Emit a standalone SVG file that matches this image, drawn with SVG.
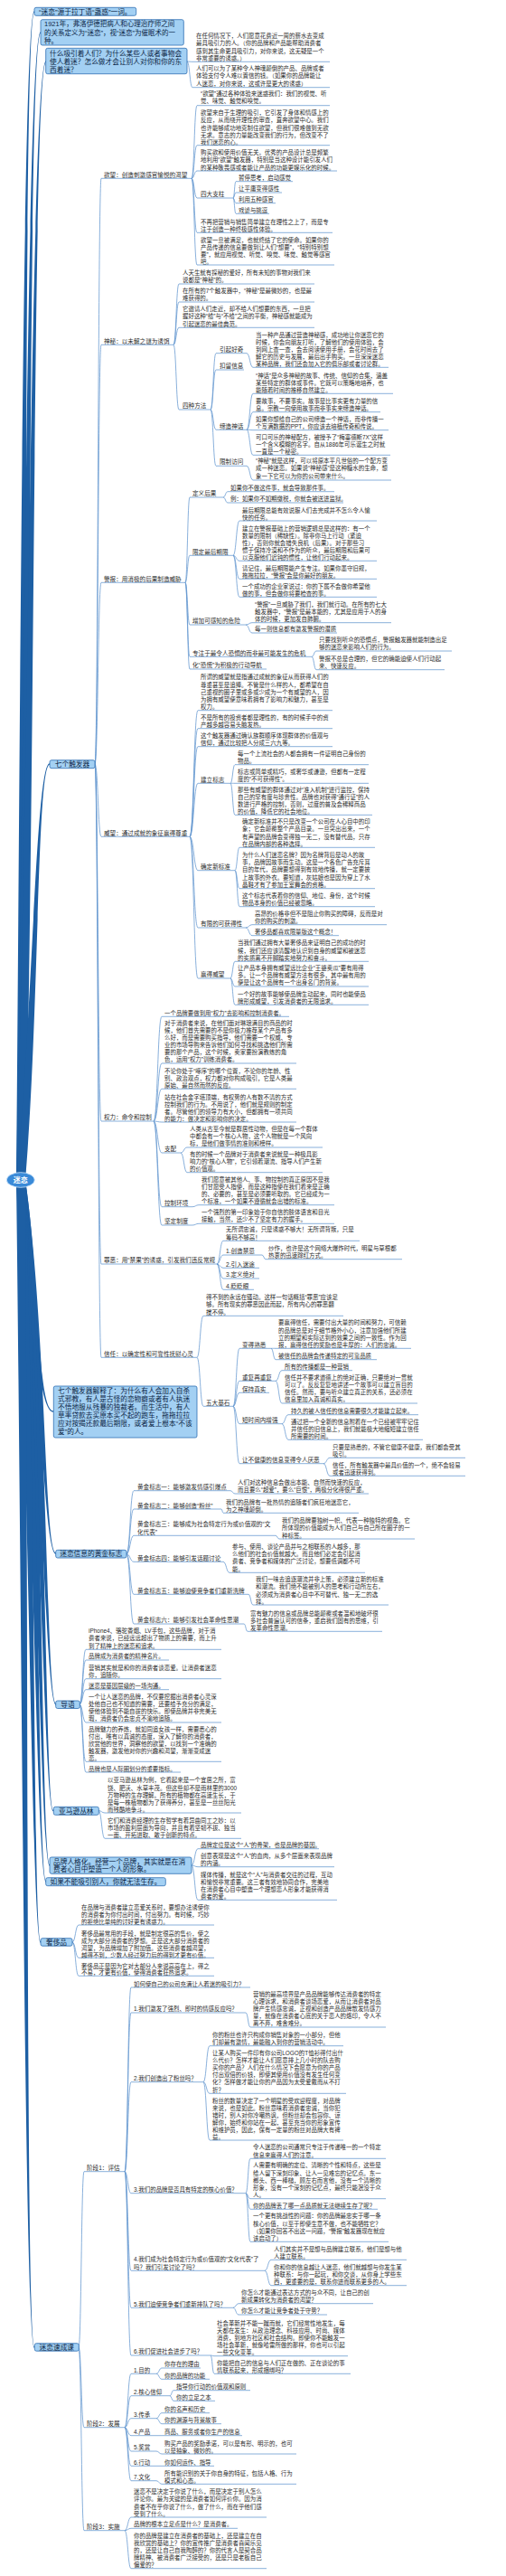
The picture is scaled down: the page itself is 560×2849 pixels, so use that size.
<svg xmlns="http://www.w3.org/2000/svg" width="560" height="2849" viewBox="0 0 560 2849">
<style>
text{font-family:"Liberation Sans","Noto Sans CJK SC","Noto Sans",sans-serif}
.t{font-size:6.45px;fill:#2b2b2b}
.l{font-size:6.6px;fill:#2b2b2b}
.b{font-size:7.7px;fill:#0b2545}
.m{text-anchor:middle}
.u,.c{stroke:#6296cf;stroke-width:0.75;fill:none}
.bx{fill:#a3d0f3;stroke:#2f6fb3;stroke-width:0.8}
.tr{fill:#1d5fa4}
</style>
<rect width="560" height="2849" fill="#ffffff"/>
<g id="trunk">
<path class="tr" d="M18,1305 C22.5,788 25.3,12.3 38,12.3 L38,13.7 C26.7,13.7 29.5,788 28,1305Z"/>
<path class="tr" d="M18,1305 C27.5,797 30.3,35.3 45,35.3 L45,36.7 C31.7,36.7 34.5,797 28,1305Z"/>
<path class="tr" d="M18,1305 C32.5,810 35.3,67.3 51,67.3 L51,68.7 C36.7,68.7 39.5,810 28,1305Z"/>
<path class="tr" d="M18,1305 C36.5,1121 39.3,844.3 55,844.3 L55,845.7 C40.7,845.7 43.5,1121 28,1305Z"/>
<path class="tr" d="M18,1305 C36.5,1407 39.3,1561.7 59,1561.7 L59,1560.3 C40.7,1560.3 43.5,1407 28,1305Z"/>
<path class="tr" d="M18,1305 C44.5,1470 47.3,1718.7 62,1718.7 L62,1717.3 C48.7,1717.3 51.5,1470 28,1305Z"/>
<path class="tr" d="M18,1305 C46.5,1537 49.3,1885.7 62,1885.7 L62,1884.3 C50.7,1884.3 53.5,1537 28,1305Z"/>
<path class="tr" d="M18,1305 C45.5,1584 48.3,2003.2 59,2003.2 L59,2001.8 C49.7,2001.8 52.5,1584 28,1305Z"/>
<path class="tr" d="M18,1305 C41.5,1608 44.3,2063.7 55,2063.7 L55,2062.3 C45.7,2062.3 48.5,1608 28,1305Z"/>
<path class="tr" d="M18,1305 C37.5,1615 40.3,2081.7 51,2081.7 L51,2080.3 C41.7,2080.3 44.5,1615 28,1305Z"/>
<path class="tr" d="M18,1305 C32.5,1642 35.3,2148.7 45,2148.7 L45,2147.3 C36.7,2147.3 39.5,1642 28,1305Z"/>
<path class="tr" d="M18,1305 C24.5,1821 27.3,2596.7 38,2596.7 L38,2595.3 C28.7,2595.3 31.5,1821 28,1305Z"/>
</g>
<g id="connectors" class="c">
<path d="M207 68C210 68 210 68.3 213 68.3M207 68C210 68 210 96.7 213 96.7"/>
<path d="M105 845C108.5 845 108.5 197.3 112 197.3M105 845C108.5 845 108.5 381.3 112 381.3M105 845C108.5 845 108.5 644.3 112 644.3M105 845C108.5 845 108.5 925.3 112 925.3M105 845C108.5 845 108.5 1240 112 1240M105 845C108.5 845 108.5 1398 112 1398M105 845C108.5 845 108.5 1501.3 112 1501.3"/>
<path d="M212 197.3C215 197.3 215 116.7 218 116.7M212 197.3C215 197.3 215 160.7 218 160.7M212 197.3C215 197.3 215 189 218 189M212 197.3C215 197.3 215 219 218 219M212 197.3C215 197.3 215 257.3 218 257.3M212 197.3C215 197.3 215 293 218 293"/>
<path d="M258 219C259.5 219 259.5 200.7 261 200.7M258 219C259.5 219 259.5 213 261 213M258 219C259.5 219 259.5 224.7 261 224.7M258 219C259.5 219 259.5 236.3 261 236.3"/>
<path d="M192 381.3C195 381.3 195 314 198 314M192 381.3C195 381.3 195 334 198 334M192 381.3C195 381.3 195 362.3 198 362.3M192 381.3C195 381.3 195 453 198 453"/>
<path d="M233 453C236 453 236 390.7 239 390.7M233 453C236 453 236 409 239 409M233 453C236 453 236 475.3 239 475.3M233 453C236 453 236 515.3 239 515.3"/>
<path d="M273 390.7C276.5 390.7 276.5 406.3 280 406.3"/>
<path d="M273 475.3C276.5 475.3 276.5 435.3 280 435.3M273 475.3C276.5 475.3 276.5 455.7 280 455.7M273 475.3C276.5 475.3 276.5 475.7 280 475.7M273 475.3C276.5 475.3 276.5 503.3 280 503.3"/>
<path d="M273 515.3C276.5 515.3 276.5 531 280 531"/>
<path d="M205 644.3C207.5 644.3 207.5 550 210 550M205 644.3C207.5 644.3 207.5 614.3 210 614.3M205 644.3C207.5 644.3 207.5 691 210 691M205 644.3C207.5 644.3 207.5 726.3 210 726.3M205 644.3C207.5 644.3 207.5 740 210 740"/>
<path d="M247 550C249.5 550 249.5 543.7 252 543.7M247 550C249.5 550 249.5 556 252 556"/>
<path d="M258 614.3C261.5 614.3 261.5 576 265 576M258 614.3C261.5 614.3 261.5 620.3 265 620.3M258 614.3C261.5 614.3 261.5 640.3 265 640.3M258 614.3C261.5 614.3 261.5 660.3 265 660.3"/>
<path d="M272 691C275.5 691 275.5 688.7 279 688.7M272 691C275.5 691 275.5 700 279 700"/>
<path d="M345 726.3C347.5 726.3 347.5 720 350 720M345 726.3C347.5 726.3 347.5 740.7 350 740.7"/>
<path d="M210 925.3C214.5 925.3 214.5 785.7 219 785.7M210 925.3C214.5 925.3 214.5 805.7 219 805.7M210 925.3C214.5 925.3 214.5 825.7 219 825.7M210 925.3C214.5 925.3 214.5 866.3 219 866.3M210 925.3C214.5 925.3 214.5 962.7 219 962.7M210 925.3C214.5 925.3 214.5 1026 219 1026M210 925.3C214.5 925.3 214.5 1082 219 1082"/>
<path d="M255 866.3C257.5 866.3 257.5 845.7 260 845.7M255 866.3C257.5 866.3 257.5 866.3 260 866.3M255 866.3C257.5 866.3 257.5 901.3 260 901.3"/>
<path d="M260 962.7C262.5 962.7 262.5 937.3 265 937.3M260 962.7C262.5 962.7 262.5 982.7 265 982.7M260 962.7C262.5 962.7 262.5 1002.7 265 1002.7"/>
<path d="M272 1026C275.5 1026 275.5 1022.7 279 1022.7M272 1026C275.5 1026 275.5 1034.7 279 1034.7"/>
<path d="M255 1082C257.5 1082 257.5 1063.3 260 1063.3M255 1082C257.5 1082 257.5 1091 260 1091M255 1082C257.5 1082 257.5 1111.3 260 1111.3"/>
<path d="M170 1240C174.5 1240 174.5 1124.3 179 1124.3M170 1240C174.5 1240 174.5 1176 179 1176M170 1240C174.5 1240 174.5 1204.3 179 1204.3M170 1240C174.5 1240 174.5 1241 179 1241M170 1240C174.5 1240 174.5 1275 179 1275M170 1240C174.5 1240 174.5 1334.7 179 1334.7M170 1240C174.5 1240 174.5 1355 179 1355"/>
<path d="M200 1275C203.5 1275 203.5 1269 207 1269M200 1275C203.5 1275 203.5 1296.7 207 1296.7"/>
<path d="M213 1334.7C216.5 1334.7 216.5 1332.7 220 1332.7M213 1355C216.5 1355 216.5 1353.3 220 1353.3"/>
<path d="M240 1398C243.5 1398 243.5 1372.3 247 1372.3M240 1398C243.5 1398 243.5 1388 247 1388M240 1398C243.5 1398 243.5 1402.3 247 1402.3M240 1398C243.5 1398 243.5 1414 247 1414M240 1398C243.5 1398 243.5 1426.3 247 1426.3"/>
<path d="M290 1388C292 1388 292 1392.7 294 1392.7"/>
<path d="M218 1501.3C221.5 1501.3 221.5 1455.3 225 1455.3M218 1501.3C221.5 1501.3 221.5 1555.3 225 1555.3"/>
<path d="M258 1555.3C261.5 1555.3 261.5 1491.3 265 1491.3M258 1555.3C261.5 1555.3 261.5 1527.3 265 1527.3M258 1555.3C261.5 1555.3 261.5 1540.3 265 1540.3M258 1555.3C261.5 1555.3 261.5 1574.7 265 1574.7M258 1555.3C261.5 1555.3 261.5 1618.7 265 1618.7"/>
<path d="M300 1491.3C302.5 1491.3 302.5 1491.3 305 1491.3M300 1491.3C302.5 1491.3 302.5 1503.7 305 1503.7"/>
<path d="M305 1527.3C308.5 1527.3 308.5 1515.7 312 1515.7M305 1527.3C308.5 1527.3 308.5 1552 312 1552"/>
<path d="M312 1574.7C315.5 1574.7 315.5 1564.7 319 1564.7M312 1574.7C315.5 1574.7 315.5 1592.3 319 1592.3"/>
<path d="M358 1618.7C361.5 1618.7 361.5 1612.3 365 1612.3M358 1618.7C361.5 1618.7 361.5 1632.3 365 1632.3"/>
<path d="M140 1718.5C144 1718.5 144 1648.7 148 1648.7M140 1718.5C144 1718.5 144 1669 148 1669M140 1718.5C144 1718.5 144 1698.3 148 1698.3M140 1718.5C144 1718.5 144 1727.3 148 1727.3M140 1718.5C144 1718.5 144 1763.3 148 1763.3M140 1718.5C144 1718.5 144 1796 148 1796"/>
<path d="M255 1648.7C257.5 1648.7 257.5 1652 260 1652M245 1669C246 1669 246 1673.3 247 1673.3M305 1698.3C307 1698.3 307 1702 309 1702M247 1727.3C250.5 1727.3 250.5 1739.3 254 1739.3M275 1763.3C277.5 1763.3 277.5 1775 280 1775M270 1796C272 1796 272 1804.3 274 1804.3"/>
<path d="M88 1885C91.5 1885 91.5 1824.3 95 1824.3M88 1885C91.5 1885 91.5 1836 95 1836M88 1885C91.5 1885 91.5 1856.7 95 1856.7M88 1885C91.5 1885 91.5 1868.7 95 1868.7M88 1885C91.5 1885 91.5 1905 95 1905M88 1885C91.5 1885 91.5 1948.3 95 1948.3M88 1885C91.5 1885 91.5 1960 95 1960"/>
<path d="M109 2002.5C112.5 2002.5 112.5 2005 116 2005M109 2002.5C112.5 2002.5 112.5 2033.3 116 2033.3"/>
<path d="M212 2063C215.5 2063 215.5 2044.7 219 2044.7M212 2063C215.5 2063 215.5 2064.7 219 2064.7M212 2063C215.5 2063 215.5 2101.3 219 2101.3"/>
<path d="M80 2148C83.5 2148 83.5 2129 87 2129M80 2148C83.5 2148 83.5 2165.3 87 2165.3M80 2148C83.5 2148 83.5 2185.3 87 2185.3"/>
<path d="M87 2596C90 2596 90 2401.7 93 2401.7M87 2596C90 2596 90 2684.7 93 2684.7M87 2596C90 2596 90 2798.7 93 2798.7"/>
<path d="M138 2401.7C141.5 2401.7 141.5 2198 145 2198M138 2401.7C141.5 2401.7 141.5 2226 145 2226M138 2401.7C141.5 2401.7 141.5 2302.7 145 2302.7M138 2401.7C141.5 2401.7 141.5 2425.7 145 2425.7M138 2401.7C141.5 2401.7 141.5 2511.3 145 2511.3M138 2401.7C141.5 2401.7 141.5 2552.3 145 2552.3M138 2401.7C141.5 2401.7 141.5 2605 145 2605"/>
<path d="M272 2226C274.5 2226 274.5 2242 277 2242"/>
<path d="M225 2302.7C228.5 2302.7 228.5 2262.7 232 2262.7M225 2302.7C228.5 2302.7 228.5 2315.3 232 2315.3M225 2302.7C228.5 2302.7 228.5 2367 232 2367"/>
<path d="M272 2425.7C274.5 2425.7 274.5 2387.3 277 2387.3M272 2425.7C274.5 2425.7 274.5 2431.7 277 2431.7M272 2425.7C274.5 2425.7 274.5 2443.3 277 2443.3M272 2425.7C274.5 2425.7 274.5 2479.3 277 2479.3"/>
<path d="M293 2511.3C296.5 2511.3 296.5 2499.3 300 2499.3M293 2511.3C296.5 2511.3 296.5 2527.7 300 2527.7"/>
<path d="M258 2552.3C261 2552.3 261 2547.7 264 2547.7M258 2552.3C261 2552.3 261 2560 264 2560"/>
<path d="M233 2605C235 2605 235 2605.7 237 2605.7M233 2605C235 2605 235 2625.3 237 2625.3"/>
<path d="M138 2684.7C141.5 2684.7 141.5 2625.3 145 2625.3M138 2684.7C141.5 2684.7 141.5 2649.7 145 2649.7M138 2684.7C141.5 2684.7 141.5 2674.7 145 2674.7M138 2684.7C141.5 2684.7 141.5 2693.7 145 2693.7M138 2684.7C141.5 2684.7 141.5 2711 145 2711M138 2684.7C141.5 2684.7 141.5 2727.3 145 2727.3M138 2684.7C141.5 2684.7 141.5 2743.7 145 2743.7"/>
<path d="M173 2625.3C176 2625.3 176 2619 179 2619M173 2625.3C176 2625.3 176 2631.3 179 2631.3M188 2649.7C190 2649.7 190 2643.7 192 2643.7M188 2649.7C190 2649.7 190 2655.3 192 2655.3M173 2674.7C176 2674.7 176 2668.7 179 2668.7M173 2674.7C176 2674.7 176 2680.7 179 2680.7M173 2693.7H179M173 2711C176 2711 176 2714 179 2714M173 2727.3H179M173 2743.7C176 2743.7 176 2747.3 179 2747.3"/>
<path d="M138 2798.7C141.5 2798.7 141.5 2784 145 2784M138 2798.7C141.5 2798.7 141.5 2796.3 145 2796.3M138 2798.7C141.5 2798.7 141.5 2840.7 145 2840.7"/>
</g>
<g id="n-root"><ellipse cx="22.8" cy="1305" rx="15.5" ry="8.3" fill="#3a8ad8" stroke="#cfe6fb" stroke-width="0.8"/><text class="m" x="22.8" y="1308.2" font-size="8" font-weight="bold" fill="#ffffff">迷恋</text></g>
<g id="n-top1"><rect class="bx" x="38" y="8.3" width="112.7" height="9" rx="2"/><text class="b m" x="94.3" y="15.6">“迷恋”源于拉丁语“蛊惑”一词。</text></g>
<g id="n-top2"><rect class="bx" x="45" y="21.7" width="158.3" height="28.3" rx="2"/><text class="b" x="49" y="29.4" style="font-size:7.5px">1921年，弗洛伊德把病人和心理治疗师之间<tspan x="49" dy="9.2">的关系定义为“迷恋”，视“迷恋”为催眠术的一</tspan><tspan x="49" dy="9.2">种。</tspan></text></g>
<g id="n-top3"><rect class="bx" x="50.7" y="53.3" width="156.3" height="28.4" rx="2"/><text class="b" x="55" y="62.1">什么吸引着人们？为什么某些人或者事物会<tspan x="55" dy="9">使人着迷？怎么做才会让别人对你和你的东</tspan><tspan x="55" dy="9">西着迷？</tspan></text></g>
<g id="n-top3-a"><text class="t" x="217" y="42.3">在任何情况下，人们愿意花费近一周的薪水去变成<tspan x="217" dy="8.1">最具吸引力的人。（你的品牌和产品能帮助消费者</tspan><tspan x="217" dy="8.1">感到其生命更具吸引力，对你来说，这无疑是一个</tspan><tspan x="217" dy="8.1">非常重要的诱惑。）</tspan></text><path class="u" d="M213 68.3H365"/></g>
<g id="n-top3-b"><text class="t" x="217" y="78.3">人们可以为了某种令人神魂颠倒的产品、品牌或者<tspan x="217" dy="8.1">体验支付令人难以置信的钱。（如果你的品牌能让</tspan><tspan x="217" dy="8.1">人迷恋，对你来说，这或许是更大的诱惑）</tspan></text><path class="u" d="M213 96.7H365"/></g>
<g id="n-triggers"><rect class="bx" x="55" y="840.7" width="50" height="9" rx="2"/><text class="b m" x="80" y="848">七个触发器</text></g>
<g id="n-desire"><text class="l" x="115" y="195.7">欲望：创造刺激感官愉悦的渴望</text><path class="u" d="M112 197.3H212"/></g>
<g id="n-desire-a"><text class="t" x="222" y="106.3">“欲望”通过各种体验来迷惑我们：我们的视觉、听<tspan x="222" dy="8.1">觉、味觉、触觉和嗅觉。</tspan></text><path class="u" d="M218 116.7H365"/></g>
<g id="n-desire-b"><text class="t" x="222" y="127.3">欲望来自于生理的吸引，它引发了身体和情感上的<tspan x="222" dy="8.1">反应，从而绕开理性的审查，直奔欲望中心。我们</tspan><tspan x="222" dy="8.1">也许能够成功地克制住欲望，但我们很难做到无欲</tspan><tspan x="222" dy="8.1">无求。意志的力量能改变我们的行为，但改变不了</tspan><tspan x="222" dy="8.1">我们迷恋的心。</tspan></text><path class="u" d="M218 160.7H365"/></g>
<g id="n-desire-c"><text class="t" x="222" y="171.3">购买欲和使用价值无关。优秀的产品设计总是频繁<tspan x="222" dy="8.1">地利用“欲望”触发器，特别是当这种设计能引发人们</tspan><tspan x="222" dy="8.1">的某种敬畏感或者能让产品的功能更娱乐化的时候。</tspan></text><path class="u" d="M218 189H373"/></g>
<g id="n-desire-d"><text class="l" x="222" y="217.4">四大支柱</text><path class="u" d="M218 219H258"/></g>
<g id="n-desire-d1"><text class="t" x="264" y="199">暂停思考，启动感觉</text><path class="u" d="M261 200.7H324"/></g>
<g id="n-desire-d2"><text class="t" x="264" y="211.3">让平庸变得感性</text><path class="u" d="M261 213H312"/></g>
<g id="n-desire-d3"><text class="t" x="264" y="223">利用五种感官</text><path class="u" d="M261 224.7H305"/></g>
<g id="n-desire-d4"><text class="t" x="264" y="234.6">戏谑与挑逗</text><path class="u" d="M261 236.3H298"/></g>
<g id="n-desire-e"><text class="t" x="222" y="247.6">不再把营销与销售简单建立在理性之上了，而是专<tspan x="222" dy="8.1">注于创造一种终极感性体验。</tspan></text><path class="u" d="M218 257.3H368"/></g>
<g id="n-desire-f"><text class="t" x="222" y="268">欲望一旦被满足，也就终结了它的使命。如果你的<tspan x="222" dy="8.1">产品传递的信息要做到让人们“想要”，“特别特别想</tspan><tspan x="222" dy="8.1">要”，就应用视觉、听觉、嗅觉、味觉、触觉等感官</tspan><tspan x="222" dy="8.1">吧。</tspan></text><path class="u" d="M218 293H370"/></g>
<g id="n-mystery"><text class="l" x="115" y="379.7">神秘：以未解之谜为诱饵</text><path class="u" d="M112 381.3H192"/></g>
<g id="n-mystery-a"><text class="t" x="202" y="304.3">人天生就有探秘的爱好，所有未知的事物对我们来<tspan x="202" dy="8.1">说都是“神秘”的。</tspan></text><path class="u" d="M198 314H348"/></g>
<g id="n-mystery-b"><text class="t" x="202" y="324.3">在所有的7个触发器中，“神秘”是最微妙的，也是最<tspan x="202" dy="8.1">难获得的。</tspan></text><path class="u" d="M198 334H348"/></g>
<g id="n-mystery-c"><text class="t" x="202" y="344.3">它邀请人们走近，却不给人们想要的东西，一旦把<tspan x="202" dy="8.1">握好这种“给”与“不给”之间的平衡，神秘感就能成为</tspan><tspan x="202" dy="8.1">引起迷恋的最佳典范。</tspan></text><path class="u" d="M198 362.3H348"/></g>
<g id="n-mystery-d"><text class="l" x="202" y="451.1">四种方法</text><path class="u" d="M198 453H233"/></g>
<g id="n-mystery-d1"><text class="l" x="243" y="388.7">引起好奇</text><path class="u" d="M239 390.7H273"/></g>
<g id="n-mystery-d1a"><text class="t" x="283" y="372.6">当一种产品通过营造神秘感，成功地让你迷恋它的<tspan x="283" dy="8.1">时候，你会向朋友打听，了解他们的使用体验，会</tspan><tspan x="283" dy="8.1">到网上查一查，会去阅读使用手册，会花时间去了</tspan><tspan x="283" dy="8.1">解它的历史与发展，最后出手购买。一旦深深迷恋</tspan><tspan x="283" dy="8.1">某种品牌，我们还会加入它的俱乐部或者讨论群。</tspan></text><path class="u" d="M280 406.3H430"/></g>
<g id="n-mystery-d2"><text class="l" x="243" y="407.1">扣留信息</text><path class="u" d="M239 409H270"/></g>
<g id="n-mystery-d3"><text class="l" x="243" y="473.7">缔造神话</text><path class="u" d="M239 475.3H273"/></g>
<g id="n-mystery-d3a"><text class="t" x="283" y="417.6">“神话”是众多神秘的故事、传统、信仰的合集，涵盖<tspan x="283" dy="8.1">某些特定的群体或事件。它既可以策略地培养，也</tspan><tspan x="283" dy="8.1">能随着时间的推移自然建立。</tspan></text><path class="u" d="M280 435.3H435"/></g>
<g id="n-mystery-d3b"><text class="t" x="283" y="446">要故事，不要事实。故事是比事实更有力量的信<tspan x="283" dy="8.1">息。宗教一向使用故事而非事实来缔造神话。</tspan></text><path class="u" d="M280 455.7H421"/></g>
<g id="n-mystery-d3c"><text class="t" x="283" y="466">如果你想给自己的公司缔造一个神话，而非传播一<tspan x="283" dy="8.1">个写满数据的PPT，你应该去培植传奇和传说。</tspan></text><path class="u" d="M280 475.7H430"/></g>
<g id="n-mystery-d3d"><text class="t" x="283" y="485.6">可口可乐的神秘配方，被授予了“梅塞德斯7X”这样<tspan x="283" dy="8.1">一个含义模糊的名字。自从1886年可乐诞生之时就</tspan><tspan x="283" dy="8.1">一直是一个秘密。</tspan></text><path class="u" d="M280 503.3H432"/></g>
<g id="n-mystery-d4"><text class="l" x="243" y="513.4">限制访问</text><path class="u" d="M239 515.3H273"/></g>
<g id="n-mystery-d4a"><text class="t" x="283" y="512.3">“神秘”就是这样，可以将原本平凡世俗的一个配方变<tspan x="283" dy="8.1">成一种迷恋。如果说“神秘感”是这种糖水的生命，想</tspan><tspan x="283" dy="8.1">象一下它可以为你的公司带来什么。</tspan></text><path class="u" d="M280 531H433"/></g>
<g id="n-alarm"><text class="l" x="115" y="642.7">警报：用消极的后果制造威胁</text><path class="u" d="M112 644.3H205"/></g>
<g id="n-alarm-a"><text class="l" x="213" y="548.4">定义后果</text><path class="u" d="M210 550H247"/></g>
<g id="n-alarm-a1"><text class="t" x="255" y="541.6">如果你不做这件事，就会导致那件事。</text><path class="u" d="M252 543.7H370"/></g>
<g id="n-alarm-a2"><text class="t" x="255" y="554.3">例：如果你不如期缴税，你就会被送进监狱。</text><path class="u" d="M252 556H380"/></g>
<g id="n-alarm-b"><text class="l" x="213" y="612.7">限定最后期限</text><path class="u" d="M210 614.3H258"/></g>
<g id="n-alarm-b1"><text class="t" x="268" y="566.6">最后期限总能有效说服人们去完成并不怎么令人愉<tspan x="268" dy="8.1">快的任务。</tspan></text><path class="u" d="M265 576H417"/></g>
<g id="n-alarm-b2"><text class="t" x="268" y="586.6">建立在警报基础上的营销逻辑总是这样的：有一个<tspan x="268" dy="8.1">数量的限制（稀缺性）。除非你马上行动（紧迫</tspan><tspan x="268" dy="8.1">性），否则你就会错失良机（后果）。对于那些习</tspan><tspan x="268" dy="8.1">惯于保持冷漠和不作为的听众，最后期限和后果可</tspan><tspan x="268" dy="8.1">以克服他们迟钝的惯性，让他们行动起来。</tspan></text><path class="u" d="M265 620.3H417"/></g>
<g id="n-alarm-b3"><text class="t" x="268" y="630.6">请记住，最后期限能产生专注。如果你墨守旧规，<tspan x="268" dy="8.1">拖拖拉拉，“警报”会是你最好的朋友。</tspan></text><path class="u" d="M265 640.3H417"/></g>
<g id="n-alarm-b4"><text class="t" x="268" y="650.6">一个成功的企业家说过：你的下属不会做你希望他<tspan x="268" dy="8.1">做的事，但会做你将要检查的事。</tspan></text><path class="u" d="M265 660.3H417"/></g>
<g id="n-alarm-c"><text class="l" x="213" y="689.4">增加可感知的危险</text><path class="u" d="M210 691H272"/></g>
<g id="n-alarm-c1"><text class="t" x="282" y="670.6">“警报”一旦威胁了我们，我们就行动。在所有的七大<tspan x="282" dy="8.1">触发器中，“警报”是最本能的，尤其是应用于人的身</tspan><tspan x="282" dy="8.1">体的时候，更加发自肺腑。</tspan></text><path class="u" d="M279 688.7H433"/></g>
<g id="n-alarm-c2"><text class="t" x="282" y="698.3">每一则信息都有激发警报的潜质</text><path class="u" d="M279 700H373"/></g>
<g id="n-alarm-d"><text class="l" x="213" y="724.7">专注于最令人恐惧的而非最可能发生的危机</text><path class="u" d="M210 726.3H345"/></g>
<g id="n-alarm-d1"><text class="t" x="353" y="710">只要找到听众的恐惧点，警报触发器就能制造出足<tspan x="353" dy="7.6">够的迷恋来影响人们的行为。</tspan></text><path class="u" d="M350 720H500"/></g>
<g id="n-alarm-d2"><text class="t" x="353" y="731.3">警报不总是合理的，但它的确能迫使人们行动起<tspan x="353" dy="8.1">来、快速反应。</tspan></text><path class="u" d="M350 740.7H492"/></g>
<g id="n-alarm-e"><text class="l" x="213" y="738.1">化“恐慌”为积极的行动导航</text><path class="u" d="M210 740H295"/></g>
<g id="n-prestige"><text class="l" x="115" y="923.7">威望：通过成就的象征赢得尊重</text><path class="u" d="M112 925.3H210"/></g>
<g id="n-prestige-a"><text class="t" x="222" y="751.3">所谓的威望就是指通过成就的象征从而获得人们的<tspan x="222" dy="8.2">尊重甚至是追捧。不管是什么样的人，都希望在自</tspan><tspan x="222" dy="8.2">己重视的圈子里或多或少成为一个有威望的人，因</tspan><tspan x="222" dy="8.2">为拥有威望便意味着拥有了影响力和魅力，甚至是</tspan><tspan x="222" dy="8.2">权力。</tspan></text><path class="u" d="M219 785.7H368"/></g>
<g id="n-prestige-b"><text class="t" x="222" y="796.3">不是所有的投资者都是理性的，有的时候手中的资<tspan x="222" dy="8.1">产越多越容易头脑发热。</tspan></text><path class="u" d="M219 805.7H368"/></g>
<g id="n-prestige-c"><text class="t" x="222" y="815.6">这个触发器通过确认族群顺序体现群体的价值观与<tspan x="222" dy="8.1">信仰，通过比较把人分成三六九等。</tspan></text><path class="u" d="M219 825.7H368"/></g>
<g id="n-prestige-d"><text class="l" x="222" y="864.7">建立标志</text><path class="u" d="M219 866.3H255"/></g>
<g id="n-prestige-d1"><text class="t" x="263" y="835.6">每一个上流社会的人都会拥有一件证明自己身份的<tspan x="263" dy="8.1">物品。</tspan></text><path class="u" d="M260 845.7H408"/></g>
<g id="n-prestige-d2"><text class="t" x="263" y="856.3">标志或简单或精巧，或奢华或谦逊，但都有一定程<tspan x="263" dy="8.1">度的“不可获得性”。</tspan></text><path class="u" d="M260 866.3H408"/></g>
<g id="n-prestige-d3"><text class="t" x="263" y="876.3">那些有威望的群体通过对“准入机制”进行监控，保持<tspan x="263" dy="7.8">自己的罕有度与珍贵性。品牌也对获得“通行证”的人</tspan><tspan x="263" dy="7.8">数进行严格的控制，否则，过度的普及会稀释商品</tspan><tspan x="263" dy="7.8">的价值，降低它的社会地位。</tspan></text><path class="u" d="M260 901.3H412"/></g>
<g id="n-prestige-e"><text class="l" x="222" y="961.1">确定新标准</text><path class="u" d="M219 962.7H260"/></g>
<g id="n-prestige-e1"><text class="t" x="268" y="911.3">确定新标准并不只是改变一个公司在人心目中的印<tspan x="268" dy="8.1">象；它会颠覆整个产品目录。一旦突出出来，一个</tspan><tspan x="268" dy="8.1">有声望的品牌会变得独一无二，没有替代品，只存</tspan><tspan x="268" dy="8.1">在品牌内部的各种选择。</tspan></text><path class="u" d="M265 937.3H415"/></g>
<g id="n-prestige-e2"><text class="t" x="268" y="948">为什么人们迷恋名牌？因为名牌背后是动人的故<tspan x="268" dy="8.2">事，品牌因故事而生动。这是一个各色广告充斥耳</tspan><tspan x="268" dy="8.2">目的年代，品牌要想得到有效地传播，就一定要披</tspan><tspan x="268" dy="8.2">上故事的外衣。要知道，灰姑娘也是因为穿上了水</tspan><tspan x="268" dy="8.2">晶鞋才有了参加王室舞会的资格。</tspan></text><path class="u" d="M265 982.7H415"/></g>
<g id="n-prestige-e3"><text class="t" x="268" y="992.6">这个标志代表着你的信仰、地位、身份，这个时候<tspan x="268" dy="8.2">物品本身的价值已经被忽略。</tspan></text><path class="u" d="M265 1002.7H415"/></g>
<g id="n-prestige-f"><text class="l" x="222" y="1024.4">有限的可获得性</text><path class="u" d="M219 1026H272"/></g>
<g id="n-prestige-f1"><text class="t" x="282" y="1012.6">高昂的价格非但不是阻止你购买的障碍，反而是对<tspan x="282" dy="8.2">你的购买的刺激。</tspan></text><path class="u" d="M279 1022.7H428"/></g>
<g id="n-prestige-f2"><text class="t" x="282" y="1033.3">奢侈品都喜欢限量版这个概念！</text><path class="u" d="M279 1034.7H375"/></g>
<g id="n-prestige-g"><text class="l" x="222" y="1080.4">赢得威望</text><path class="u" d="M219 1082H255"/></g>
<g id="n-prestige-g1"><text class="t" x="263" y="1045.3">当我们通过拥有大量奢侈品来证明自己的成功的时<tspan x="263" dy="8.2">候，我们还应该清醒地认识到自身的威望和被迷恋</tspan><tspan x="263" dy="8.2">的实质离不开脚踏实地努力和奋斗。</tspan></text><path class="u" d="M260 1063.3H408"/></g>
<g id="n-prestige-g2"><text class="t" x="263" y="1072.6">让产品本身拥有威望远比企业“王婆卖瓜”要有用得<tspan x="263" dy="8.3">多。让一个品牌有威望方法有很多，其中最有用的</tspan><tspan x="263" dy="8.3">便是让这个品牌有一个出身名门的背景。</tspan></text><path class="u" d="M260 1091H408"/></g>
<g id="n-prestige-g3"><text class="t" x="263" y="1101.6">一个好的故事能够使品牌生动起来，同时也能使品<tspan x="263" dy="8.1">牌形成威望，引发消费者的无限追求。</tspan></text><path class="u" d="M260 1111.3H408"/></g>
<g id="n-power"><text class="l" x="115" y="1238.1">权力：命令和控制</text><path class="u" d="M112 1240H170"/></g>
<g id="n-power-a"><text class="t" x="182" y="1122.6">一个品牌要做到用“权力”去影响和控制消费者。</text><path class="u" d="M179 1124.3H320"/></g>
<g id="n-power-b"><text class="t" x="182" y="1134.3">对于消费者来说，在他们面对琳琅满目的商品的时<tspan x="182" dy="8">候，他们首先需要的不是你极力推荐某个产品有多</tspan><tspan x="182" dy="8">么好，而是需要购买指导，他们需要一个权威、专</tspan><tspan x="182" dy="8">业的市场导购来告诉他们如何寻找和挑选他们所需</tspan><tspan x="182" dy="8">要的那个产品，这个时候，卖家要扮演教练的角</tspan><tspan x="182" dy="8">色，运用“权力”训练消费者。</tspan></text><path class="u" d="M179 1176H328"/></g>
<g id="n-power-c"><text class="t" x="182" y="1186.6">不论你处于“啄序”的哪个位置，不论你的年龄、性<tspan x="182" dy="8.2">别、政治观点，权力都对你构成吸引，它是人类最</tspan><tspan x="182" dy="8.2">原始、最自然而然的反应。</tspan></text><path class="u" d="M179 1204.3H328"/></g>
<g id="n-power-d"><text class="t" x="182" y="1215.6">站在社会金字塔顶端，有权势的人有数不清的方式<tspan x="182" dy="8">控制我们的行为。不用说了，他们就是规则的制定</tspan><tspan x="182" dy="8">者。尽管他们的领导力有大小，但都拥有一项共同</tspan><tspan x="182" dy="8">的能力：做决定和影响你的决定。</tspan></text><path class="u" d="M179 1241H328"/></g>
<g id="n-power-e"><text class="l" x="182" y="1273.4">支配</text><path class="u" d="M179 1275H200"/></g>
<g id="n-power-e1"><text class="t" x="210" y="1250.6">人类从古至今就是群居性动物，但是在每一个群体<tspan x="210" dy="8.3">中都会有一个核心人物，这个人物就是一个风向</tspan><tspan x="210" dy="8.3">标，是他们做事情的准则和榜样。</tspan></text><path class="u" d="M207 1269H357"/></g>
<g id="n-power-e2"><text class="t" x="210" y="1279">有的时候一个品牌对于消费者来说就是一种极具影<tspan x="210" dy="8">响力的“核心人物”，它引领着潮流、指导人们产生新</tspan><tspan x="210" dy="8">的价值观。</tspan></text><path class="u" d="M207 1296.7H357"/></g>
<g id="n-power-f"><text class="l" x="182" y="1333.1">控制环境</text><path class="u" d="M179 1334.7H213"/></g>
<g id="n-power-f1"><text class="t" x="223" y="1306.6">我们愿意被其他人、事、物控制的真正原因不是我<tspan x="223" dy="8.2">们甘愿受人指使，而是这种指使在我们看来是正确</tspan><tspan x="223" dy="8.2">的、必要的，甚至是必须要听取的。它已经成为一</tspan><tspan x="223" dy="8.2">个标准，一个如果不遵循就会出错的标准。</tspan></text><path class="u" d="M220 1332.7H370"/></g>
<g id="n-power-g"><text class="l" x="182" y="1353.4">坚定制度</text><path class="u" d="M179 1355H213"/></g>
<g id="n-power-g1"><text class="t" x="223" y="1343">一个强烈的第一印象始于你自信的肢体语言和目光<tspan x="223" dy="8.2">接触，当然，还少不了坚定有力的握手。</tspan></text><path class="u" d="M220 1353.3H370"/></g>
<g id="n-vice"><text class="l" x="115" y="1396.4">罪恶：用“禁果”的诱惑，引发我们违反常规</text><path class="u" d="M112 1398H240"/></g>
<g id="n-vice-a"><text class="t" x="250" y="1362.3">无所谓忠诚，只是诱惑不够大！无所谓背叛，只是<tspan x="250" dy="8.2">筹码不够高！</tspan></text><path class="u" d="M247 1372.3H398"/></g>
<g id="n-vice-b"><text class="l" x="250" y="1386.4">1.创造禁忌</text><path class="u" d="M247 1388H290"/></g>
<g id="n-vice-b1"><text class="t" x="297" y="1383.3">炒作，也许是这个网络大爆炸时代，明星与草根都<tspan x="297" dy="8">热衷的迅速蹿红方式。</tspan></text><path class="u" d="M294 1392.7H445"/></g>
<g id="n-vice-c"><text class="l" x="250" y="1400.7">2.引入迷途</text><path class="u" d="M247 1402.3H287"/></g>
<g id="n-vice-d"><text class="l" x="250" y="1412.4">3.定义绝对</text><path class="u" d="M247 1414H287"/></g>
<g id="n-vice-e"><text class="l" x="250" y="1424.7">4.眨眨眼</text><path class="u" d="M247 1426.3H281"/></g>
<g id="n-trust"><text class="l" x="115" y="1499.7">信任：以确定性和可靠性抚慰心灵</text><path class="u" d="M112 1501.3H218"/></g>
<g id="n-trust-a"><text class="t" x="228" y="1437">得不到的永远在骚动。这样一句话概括“罪恶”应该足<tspan x="228" dy="8.3">够。所有现实的罪恶因此而起，所有内心的罪恶翻</tspan><tspan x="228" dy="8.3">搅不停。</tspan></text><path class="u" d="M225 1455.3H380"/></g>
<g id="n-trust-b"><text class="l" x="228" y="1553.7">五大基石</text><path class="u" d="M225 1555.3H258"/></g>
<g id="n-trust-b1"><text class="l" x="268" y="1489.7">变得熟悉</text><path class="u" d="M265 1491.3H300"/></g>
<g id="n-trust-b1a"><text class="t" x="308" y="1465.3">要赢得信任，需要付出大量的时间和努力，可信赖<tspan x="308" dy="8.3">的品牌总是对于细节格外小心，注意加强他们所建</tspan><tspan x="308" dy="8.3">立的期望和实际达到的效果之间的一致性。作为回</tspan><tspan x="308" dy="8.3">报，赢得信任的奖励也是丰厚的：人们的忠诚。</tspan></text><path class="u" d="M305 1491.3H455"/></g>
<g id="n-trust-b1b"><text class="t" x="308" y="1502">被信任的品牌会传递特定的可靠品质</text><path class="u" d="M305 1503.7H417"/></g>
<g id="n-trust-b2"><text class="l" x="268" y="1526.1">重复再重复</text><path class="u" d="M265 1527.3H305"/></g>
<g id="n-trust-b2a"><text class="t" x="315" y="1514.3">所有的传播都是一种营销</text><path class="u" d="M312 1515.7H390"/></g>
<g id="n-trust-b2b"><text class="t" x="315" y="1526.3">信任并不要求道德上的绝对正确，只要绝对一贯就<tspan x="315" dy="8">可以了。反反复复地讲述一个故事可以建立盲目的</tspan><tspan x="315" dy="8">信任。然而，要与听众建立真正的关系，还必须在</tspan><tspan x="315" dy="8">信息里加入真诚和真实。</tspan></text><path class="u" d="M312 1552H462"/></g>
<g id="n-trust-b3"><text class="l" x="268" y="1538.7">保持真实</text><path class="u" d="M265 1540.3H298"/></g>
<g id="n-trust-b4"><text class="l" x="268" y="1573.1">短时间内增强</text><path class="u" d="M265 1574.7H312"/></g>
<g id="n-trust-b4a"><text class="t" x="322" y="1563">持久的被人信任的信息需要很久才能建立起来。</text><path class="u" d="M319 1564.7H463"/></g>
<g id="n-trust-b4b"><text class="t" x="322" y="1574.6">通过把一个全新的信息附着在一个已经被牢牢记住<tspan x="322" dy="8.2">并信任的旧信息上，我们就能极大地缩短建立信任</tspan><tspan x="322" dy="8.2">所需要的时间。</tspan></text><path class="u" d="M319 1592.3H468"/></g>
<g id="n-trust-b5"><text class="l" x="268" y="1617.1">让不健康的信息变得令人厌恶</text><path class="u" d="M265 1618.7H358"/></g>
<g id="n-trust-b5a"><text class="t" x="368" y="1602.6">只要是熟悉的，不管它健康不健康，我们都会受其<tspan x="368" dy="8">吸引。</tspan></text><path class="u" d="M365 1612.3H515"/></g>
<g id="n-trust-b5b"><text class="t" x="368" y="1623">信任，所有触发器中最具价值的一个，绝不会轻易<tspan x="368" dy="8">或者迅速获得到。</tspan></text><path class="u" d="M365 1632.3H515"/></g>
<g id="n-explain"><rect class="bx" x="59.3" y="1533" width="158.7" height="57" rx="2"/><text class="b" x="64" y="1540.8">七个触发器解释了：为什么有人会加入自杀<tspan x="64" dy="9">式邪教，有人是古怪的恋物癖或者有人执迷</tspan><tspan x="64" dy="9">不悟地服从残暴的独裁者。而生活中，有人</tspan><tspan x="64" dy="9">草率贷款去买原本买不起的跑车，拖拖拉拉</tspan><tspan x="64" dy="9">应对按揭还款最后期限，或者爱上根本“不该</tspan><tspan x="64" dy="9">爱”的人。</tspan></text></g>
<g id="n-gold"><rect class="bx" x="61.7" y="1714.3" width="78.3" height="8.7" rx="2"/><text class="b m" x="100.8" y="1721.4">迷恋信息的黄金标志</text></g>
<g id="n-gold-1"><text class="l" x="152" y="1647.1">黄金标志一：能够激发情感引爆点</text><path class="u" d="M148 1648.7H255"/></g>
<g id="n-gold-1a"><text class="t" x="263" y="1642">人们对这种信息会做出本能、自然而快速的反应，<tspan x="263" dy="8.3">而且要么“超爱”，要么“巨恨”，两极分化得很严重。</tspan></text><path class="u" d="M260 1652H408"/></g>
<g id="n-gold-2"><text class="l" x="152" y="1667.7">黄金标志二：能够创造“粉丝”</text><path class="u" d="M148 1669H245"/></g>
<g id="n-gold-2a"><text class="t" x="250" y="1663.6">我们的品牌有一批热情的追随者们疯狂地迷恋它，<tspan x="250" dy="8.4">为之神魂颠倒。</tspan></text><path class="u" d="M247 1673.3H397"/></g>
<g id="n-gold-3"><text class="l" x="152" y="1688.4">黄金标志三：能够成为社会特定行为或价值观的“文<tspan x="152" dy="8.3">化代表”</tspan></text><path class="u" d="M148 1698.3H305"/></g>
<g id="n-gold-3a"><text class="t" x="312" y="1684">我们的品牌要独树一帜、代表一种独特的视角。它<tspan x="312" dy="8.3">所体现的价值能成为人们自己与自己所在圈子的一</tspan><tspan x="312" dy="8.3">种标签。</tspan></text><path class="u" d="M309 1702H459"/></g>
<g id="n-gold-4"><text class="l" x="152" y="1725.7">黄金标志四：能够引发话题讨论</text><path class="u" d="M148 1727.3H247"/></g>
<g id="n-gold-4a"><text class="t" x="257" y="1712.6">参与、使用、谈论产品并与之相联系的人越多，那<tspan x="257" dy="8.3">么他们的社会价值就越大。而且他们必定会引起消</tspan><tspan x="257" dy="8.3">费者、竞争者和媒体的广泛讨论，想要低调都不可</tspan><tspan x="257" dy="8.3">能。</tspan></text><path class="u" d="M254 1739.3H404"/></g>
<g id="n-gold-5"><text class="l" x="152" y="1761.7">黄金标志五：能够迫使竞争者们重新洗牌</text><path class="u" d="M148 1763.3H275"/></g>
<g id="n-gold-5a"><text class="t" x="283" y="1749.3">我们一味去追逐潮流并非上策，必须建立新的标准<tspan x="283" dy="8.1">和潮流。我们绝不能被别人的思考和行动所左右，</tspan><tspan x="283" dy="8.1">必须成为消费者心目中不可替代、独一无二的选</tspan><tspan x="283" dy="8.1">择。</tspan></text><path class="u" d="M280 1775H430"/></g>
<g id="n-gold-6"><text class="l" x="152" y="1794.4">黄金标志六：能够引发社会革命性思潮</text><path class="u" d="M148 1796H270"/></g>
<g id="n-gold-6a"><text class="t" x="277" y="1786.6">富有魅力的信息或品牌总能颠覆或者温和地破坏很<tspan x="277" dy="8.3">多社会普遍认可的信条，重启我们固有的思维，引</tspan><tspan x="277" dy="8.3">发革命性思潮。</tspan></text><path class="u" d="M274 1804.3H423"/></g>
<g id="n-intro"><rect class="bx" x="61.7" y="1881" width="26.6" height="8.5" rx="2"/><text class="b m" x="75" y="1888">导语</text></g>
<g id="n-intro-a"><text class="t" x="98" y="1806">iPhone4、骆驼香烟、LV手包，这些品牌，对于消<tspan x="98" dy="8.3">费者来说，已经远远超出了物质上的需要，而上升</tspan><tspan x="98" dy="8.3">到了精神上的迷恋和追求。</tspan></text><path class="u" d="M95 1824.3H245"/></g>
<g id="n-intro-b"><text class="t" x="98" y="1834">品牌成为消费者的精神名片。</text><path class="u" d="M95 1836H187"/></g>
<g id="n-intro-c"><text class="t" x="98" y="1847.3">营销其实就是和你的消费者谈恋爱。让消费者迷恋<tspan x="98" dy="7.8">你，追随你。</tspan></text><path class="u" d="M95 1856.7H245"/></g>
<g id="n-intro-d"><text class="t" x="98" y="1867.3">迷恋是基因层级的一场沟通。</text><path class="u" d="M95 1868.7H187"/></g>
<g id="n-intro-e"><text class="t" x="98" y="1879.3">一个让人迷恋的品牌，不仅要挖掘出消费者心灵深<tspan x="98" dy="8">处他自己也不知道的需要，还要给予充分的满足，</tspan><tspan x="98" dy="8">使他体验到不能自拔的快乐。即使品牌并非完美无</tspan><tspan x="98" dy="8">瑕，消费者仍会忠贞不渝地追随。</tspan></text><path class="u" d="M95 1905H245"/></g>
<g id="n-intro-f"><text class="t" x="98" y="1914.6">品牌魅力的养炼，就如同追女孩一样，需要悉心的<tspan x="98" dy="8.1">付出，唯有以真诚的态度，深入了解你的消费者，</tspan><tspan x="98" dy="8.1">欣赏他的世界，洞察他的欲望，以找到一个准确的</tspan><tspan x="98" dy="8.1">触发器，激发他对你的兴趣和渴望，渐渐变成迷</tspan><tspan x="98" dy="8.1">恋。</tspan></text><path class="u" d="M95 1948.3H245"/></g>
<g id="n-intro-g"><text class="t" x="98" y="1958.6">品牌也是人际圈划分的重要指标。</text><path class="u" d="M95 1960H200"/></g>
<g id="n-amazon"><rect class="bx" x="59.3" y="1998.3" width="50" height="9" rx="2"/><text class="b m" x="84.3" y="2005.7">亚马逊丛林</text></g>
<g id="n-amazon-a"><text class="t" x="119" y="1971.3">以亚马逊丛林为例，它看起来是一个宜居之所，富<tspan x="119" dy="8.2">饶、肥沃、水草丰茂。但这些却不是雨林里的3000</tspan><tspan x="119" dy="8.2">万物种的生存理解。所有的植物都在高速生长，于</tspan><tspan x="119" dy="8.2">是每一株植物都为了获得养分，甚至是一丝丝阳光</tspan><tspan x="119" dy="8.2">而残酷地争斗。</tspan></text><path class="u" d="M116 2005H267"/></g>
<g id="n-amazon-b"><text class="t" x="119" y="2015.6">它们和消费经理的生存哲学有着异曲同工之妙：以<tspan x="119" dy="8">市场的盈利层面为导向，并且有着坚韧不拔、独当</tspan><tspan x="119" dy="8">一面、开拓进取、敢于创新的特点。</tspan></text><path class="u" d="M116 2033.3H267"/></g>
<g id="n-persona"><rect class="bx" x="55" y="2054" width="157" height="18.3" rx="2"/><text class="b" x="59" y="2061.8">品牌人格化。经营一个品牌，其实就是在消<tspan x="59" dy="8.3">费者心目中塑造一个人的形象。</tspan></text></g>
<g id="n-persona-a"><text class="t" x="222" y="2043">品牌定位是这个“人”的骨架，也是品牌的基因。</text><path class="u" d="M219 2044.7H353"/></g>
<g id="n-persona-b"><text class="t" x="222" y="2055.3">创意表现是这个“人”的血肉，从多个层面来表现品牌<tspan x="222" dy="7.7">的内涵。</tspan></text><path class="u" d="M219 2064.7H370"/></g>
<g id="n-persona-c"><text class="t" x="222" y="2075.6">媒体传播，就是这个“人”与消费者交往的过程，互动<tspan x="222" dy="8.1">和愉悦非常重要。这三者有效地协同合作，完美地</tspan><tspan x="222" dy="8.1">在消费者心目中塑造一个理想恋人形象才能获得消</tspan><tspan x="222" dy="8.1">费者的爱。</tspan></text><path class="u" d="M219 2101.3H373"/></g>
<g id="n-survive"><rect class="bx" x="50.7" y="2076.7" width="132.6" height="9" rx="2"/><text class="b m" x="117" y="2084">如果不能吸引别人，你就无法生存。</text></g>
<g id="n-luxury"><rect class="bx" x="45" y="2143.7" width="35" height="8.5" rx="2"/><text class="b m" x="62.5" y="2150.8">奢侈品</text></g>
<g id="n-luxury-a"><text class="t" x="90" y="2112">在品牌与消费者建立恋爱关系时，要想办法诱使你<tspan x="90" dy="8">的消费者为你付出时间，付出努力。有时候，巧妙</tspan><tspan x="90" dy="8">的拒绝比单纯的讨好更有诱惑力。</tspan></text><path class="u" d="M87 2129H237"/></g>
<g id="n-luxury-b"><text class="t" x="90" y="2140.6">奢侈品最常用的手段，就是制定很高的售价，使之<tspan x="90" dy="8">成为大部分消费者的梦想。正是这大部分消费者的</tspan><tspan x="90" dy="8">渴望，为品牌增加了附加值。这些消费者越渴望，</tspan><tspan x="90" dy="8">越得不到，少数人经过努力后的得到才更有价值。</tspan></text><path class="u" d="M87 2165.3H237"/></g>
<g id="n-luxury-c"><text class="t" x="90" y="2176.6">奢侈品正是因为它对大部分人来说高高在上，得之<tspan x="90" dy="7.7">不易，才更有价值，使得消费者狂热追求。</tspan></text><path class="u" d="M87 2185.3H237"/></g>
<g id="n-course"><rect class="bx" x="38.3" y="2591.7" width="49" height="8.5" rx="2"/><text class="b m" x="62.8" y="2598.8">迷恋速成课</text></g>
<g id="n-s1"><text class="l" x="96" y="2399.7">阶段1：评估</text><path class="u" d="M93 2401.7H138"/></g>
<g id="n-s1-a"><text class="t" x="148" y="2196.6">如何使自己的公司充满让人着迷的吸引力？</text><path class="u" d="M145 2198H277"/></g>
<g id="n-s1-q1"><text class="t" x="148" y="2224.3">1.我们激发了强烈、即时的情感反应吗？</text><path class="u" d="M145 2226H272"/></g>
<g id="n-s1-q1a"><text class="t" x="280" y="2207.6">营销的最高境界是产品品牌能够传达消费者的特定<tspan x="280" dy="8.2">心理诉求，和消费者谈场恋爱，从而让消费者对品</tspan><tspan x="280" dy="8.2">牌产生情感忠诚，正视和创造产品品牌散发情感力</tspan><tspan x="280" dy="8.2">量，就像在消费者心底的关于恋人的烙印，令人不</tspan><tspan x="280" dy="8.2">离不弃，难舍难分。</tspan></text><path class="u" d="M277 2242H427"/></g>
<g id="n-s1-q2"><text class="t" x="148" y="2301">2.我们创造出了粉丝吗？</text><path class="u" d="M145 2302.7H225"/></g>
<g id="n-s1-q2a"><text class="t" x="235" y="2252.6">你的粉丝也许只构成你销售对象的一小部分，但他<tspan x="235" dy="8.3">们却最有激情，最能融入到你的营销活动中。</tspan></text><path class="u" d="M232 2262.7H380"/></g>
<g id="n-s1-q2b"><text class="t" x="235" y="2272.6">让某人购买一件印有你公司LOGO的T恤衫得付出什<tspan x="235" dy="8.2">么代价？怎样才能让人们愿意排上几小时的队去购</tspan><tspan x="235" dy="8.2">买你的产品？人们在什么情况下会愿意为你的产品</tspan><tspan x="235" dy="8.2">付出双倍的价钱，即使其使用价值没有发生任何变</tspan><tspan x="235" dy="8.2">化？怎样做才能让你的产品因为太受爱戴而从不打</tspan><tspan x="235" dy="8.2">折？</tspan></text><path class="u" d="M232 2315.3H383"/></g>
<g id="n-s1-q2c"><text class="t" x="235" y="2326">粉丝的数量决定了一个明星的受欢迎程度，对品牌<tspan x="235" dy="7.9">来说，也是如此。粉丝意味着消费者忠诚，当你犯</tspan><tspan x="235" dy="7.9">错时，别人对你冷嘲热讽，但粉丝却会包容你、谅</tspan><tspan x="235" dy="7.9">解你，始终和你站在一起，甚至充当你的形象宣传</tspan><tspan x="235" dy="7.9">和维护员，因此，保有一定量的粉丝对品牌大有裨</tspan><tspan x="235" dy="7.9">益。</tspan></text><path class="u" d="M232 2367H380"/></g>
<g id="n-s1-q3"><text class="t" x="148" y="2424">3.我们的品牌是否具有特定的核心价值？</text><path class="u" d="M145 2425.7H272"/></g>
<g id="n-s1-q3a"><text class="t" x="280" y="2376.6">令人迷恋的公司通常只专注于传递唯一的一个特定<tspan x="280" dy="9">信息来赢得人们的注意。</tspan></text><path class="u" d="M277 2387.3H427"/></g>
<g id="n-s1-q3b"><text class="t" x="280" y="2397.3">人需要有明确的定位、清晰的个性和特点，这些是<tspan x="280" dy="8.2">给人留下深刻印象、让人一见难忘的记忆点。东一</tspan><tspan x="280" dy="8.2">榔头、西一棒槌，顾左右而言他，没有一个清晰的</tspan><tspan x="280" dy="8.2">形象，没有一个深刻的记忆点，最终只能泯没于众</tspan><tspan x="280" dy="8.2">人。</tspan></text><path class="u" d="M277 2431.7H427"/></g>
<g id="n-s1-q3c"><text class="t" x="280" y="2441.6">你的品牌丢了哪一点品质就无法继续生存了呢？</text><path class="u" d="M277 2443.3H418"/></g>
<g id="n-s1-q3d"><text class="t" x="280" y="2453.3">一个更有挑战性的问题：你的品牌最忠实于哪一条<tspan x="280" dy="8.2">核心价值，以至于即使生意不做，也不能牺牲它？</tspan><tspan x="280" dy="8.2">（如果你回答不出这一问题，“警报”触发器现在就应</tspan><tspan x="280" dy="8.2">该启动了）</tspan></text><path class="u" d="M277 2479.3H430"/></g>
<g id="n-s1-q4"><text class="t" x="148" y="2501.3">4.我们成为社会特定行为或价值观的“文化代表”了<tspan x="148" dy="8.3">吗？我们引发讨论了吗？</tspan></text><path class="u" d="M145 2511.3H293"/></g>
<g id="n-s1-q4a"><text class="t" x="303" y="2489.6">人们其实并不是想与品牌建立联系，他们是想与他<tspan x="303" dy="8.3">人建立联系。</tspan></text><path class="u" d="M300 2499.3H450"/></g>
<g id="n-s1-q4b"><text class="t" x="303" y="2509.6">你和你的信息越让人迷恋，他们就越想与你发生某<tspan x="303" dy="8.3">种联系：与你一起玩，和你交谈，从你身上学些东</tspan><tspan x="303" dy="8.3">西，更重要的是，联系你进而联系更多的人。</tspan></text><path class="u" d="M300 2527.7H450"/></g>
<g id="n-s1-q5"><text class="t" x="148" y="2550.6">5.我们迫使竞争者们重新排队了吗？</text><path class="u" d="M145 2552.3H258"/></g>
<g id="n-s1-q5a"><text class="t" x="267" y="2538.3">你怎么才能通过表达方式的与众不同，让自己的创<tspan x="267" dy="8">新成果转化为消费者的渴望？</tspan></text><path class="u" d="M264 2547.7H413"/></g>
<g id="n-s1-q5b"><text class="t" x="267" y="2558.3">你怎么才能让竞争者处于守势？</text><path class="u" d="M264 2560H362"/></g>
<g id="n-s1-q6"><text class="t" x="148" y="2603.3">6.我们促进社会进步了吗？</text><path class="u" d="M145 2605H233"/></g>
<g id="n-s1-q6a"><text class="t" x="240" y="2571.6">社会革新并不能一蹴而就，它们经常性地发生，每<tspan x="240" dy="8.1">天都在发生：从政治理念、科技应用、时尚、媒体</tspan><tspan x="240" dy="8.1">消费，到地方社区和社会结构。即使你不能触发一</tspan><tspan x="240" dy="8.1">场社会革新，就像哈雷所做的那样，你也可以引起</tspan><tspan x="240" dy="8.1">一些文化变革。</tspan></text><path class="u" d="M237 2605.7H385"/></g>
<g id="n-s1-q6b"><text class="t" x="240" y="2615.6">你能把自己的信息与人们正在做的、正在谈论的事<tspan x="240" dy="8">情联系起来，形成捆绑吗？</tspan></text><path class="u" d="M237 2625.3H388"/></g>
<g id="n-s2"><text class="l" x="96" y="2682.7">阶段2：发展</text><path class="u" d="M93 2684.7H138"/></g>
<g id="n-s2-1"><text class="t" x="148" y="2623.6">1.目的</text><path class="u" d="M145 2625.3H173"/></g>
<g id="n-s2-1a"><text class="t" x="182" y="2617.3">你存在的理由</text><path class="u" d="M179 2619H222"/></g>
<g id="n-s2-1b"><text class="t" x="182" y="2629.6">你的品牌的功能</text><path class="u" d="M179 2631.3H232"/></g>
<g id="n-s2-2"><text class="t" x="148" y="2648">2.核心信仰</text><path class="u" d="M145 2649.7H188"/></g>
<g id="n-s2-2a"><text class="t" x="195" y="2642">指导你行动的价值观和原则</text><path class="u" d="M192 2643.7H277"/></g>
<g id="n-s2-2b"><text class="t" x="195" y="2653.6">你的立足之本</text><path class="u" d="M192 2655.3H238"/></g>
<g id="n-s2-3"><text class="t" x="148" y="2673">3.传承</text><path class="u" d="M145 2674.7H173"/></g>
<g id="n-s2-3a"><text class="t" x="182" y="2667">你的名声和历史</text><path class="u" d="M179 2668.7H232"/></g>
<g id="n-s2-3b"><text class="t" x="182" y="2679.3">你的渊源与背景故事</text><path class="u" d="M179 2680.7H245"/></g>
<g id="n-s2-4"><text class="t" x="148" y="2692">4.产品</text><path class="u" d="M145 2693.7H173"/></g>
<g id="n-s2-4a"><text class="t" x="182" y="2692">商品、服务或者你生产的信息</text><path class="u" d="M179 2693.7H268"/></g>
<g id="n-s2-5"><text class="t" x="148" y="2709.3">5.奖赏</text><path class="u" d="M145 2711H173"/></g>
<g id="n-s2-5a"><text class="t" x="182" y="2704.6">购买产品的奖励承诺，可以是有形、明示的，也可<tspan x="182" dy="8">以是抽象、微妙的。</tspan></text><path class="u" d="M179 2714H328"/></g>
<g id="n-s2-6"><text class="t" x="148" y="2725.6">6.行动</text><path class="u" d="M145 2727.3H173"/></g>
<g id="n-s2-6a"><text class="t" x="182" y="2725.6">你如何运作、指导</text><path class="u" d="M179 2727.3H237"/></g>
<g id="n-s2-7"><text class="t" x="148" y="2742">7.文化</text><path class="u" d="M145 2743.7H173"/></g>
<g id="n-s2-7a"><text class="t" x="182" y="2737.6">所有能识别的关于你自身的特征，包括人格、行为<tspan x="182" dy="8.3">模式和心态。</tspan></text><path class="u" d="M179 2747.3H328"/></g>
<g id="n-s3"><text class="l" x="96" y="2797.1">阶段3：实施</text><path class="u" d="M93 2798.7H138"/></g>
<g id="n-s3-a"><text class="t" x="148" y="2758">迷恋不是决定于你说了什么，而是决定于别人怎么<tspan x="148" dy="8.3">评论你。最为关键的是消费者如何评价你。因为消</tspan><tspan x="148" dy="8.3">费者不在乎你说了什么，做了什么，而在乎他们感</tspan><tspan x="148" dy="8.3">受到了什么。</tspan></text><path class="u" d="M145 2784H295"/></g>
<g id="n-s3-b"><text class="t" x="148" y="2794.3">品牌的根本立足点是什么？是消费者。</text><path class="u" d="M145 2796.3H263"/></g>
<g id="n-s3-c"><text class="t" x="148" y="2807">你的品牌是建立在消费者的基础上，还是建立在自<tspan x="148" dy="8">我欣赏的基础上？你的宣传推广是消费者喜闻乐见</tspan><tspan x="148" dy="8">的，还是让自己自我陶醉的？你的代言人是契合品</tspan><tspan x="148" dy="8">牌精神、被消费者广泛接受的，还是只是老板自己</tspan><tspan x="148" dy="8">偏爱的？</tspan></text><path class="u" d="M145 2840.7H295"/></g>
</svg>
